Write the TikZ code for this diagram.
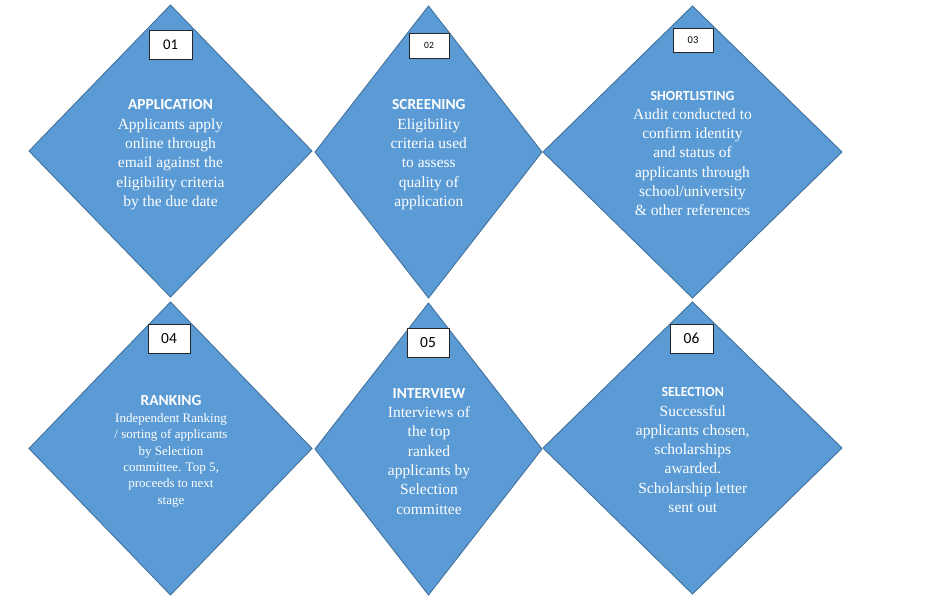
\documentclass[tikz,border=0pt]{standalone}
\usepackage{fontspec}
\setmainfont{Liberation Serif}
\newfontfamily\headfont{Carlito}
\usetikzlibrary{shapes.geometric,positioning}
\definecolor{stageblue}{HTML}{5B9BD5}
\definecolor{stageedge}{HTML}{41719C}

\begin{document}
\begin{tikzpicture}[x=1pt,y=-1pt,
    stage/.style = {diamond,fill=stageblue,draw=stageedge,line width=0.9pt,inner sep=0pt,outer sep=0pt},
    numbox/.style = {rectangle,fill=white,draw=black!85,line width=0.8pt,inner sep=0pt,text=black},
    heading/.style = {text=white,inner sep=0pt,font=\headfont\bfseries\fontsize{15.4}{18}\selectfont},
    smallheading/.style = {heading,font=\headfont\bfseries\fontsize{13.9}{16}\selectfont},
    body/.style = {text=white,inner sep=0pt,align=center,font=\fontsize{15.5}{19.3}\selectfont}]

        \useasboundingbox (0,0) rectangle (946,603);

        % Stage 01
        \node [stage,minimum width=283pt,minimum height=292pt] (application) at (170.5,151){};
        \node [numbox,minimum width=43pt,minimum height=29pt,font=\headfont\fontsize{14.8}{16}\selectfont] (num01) at (170.5,44.5){01};
        \node [heading] (applicationtitle) at (170.5,104){APPLICATION};
        \node [body,below=9pt of applicationtitle] (applicationtext){Applicants apply\\online through\\email against the\\eligibility criteria\\by the due date};

        % Stage 02
        \node [stage,minimum width=227pt,minimum height=292pt] (screening) at (428.5,152){};
        \node [numbox,minimum width=40pt,minimum height=25pt,font=\headfont\fontsize{9.5}{11}\selectfont] (num02) at (429,45.5){02};
        \node [heading] (screeningtitle) at (428.8,104){SCREENING};
        \node [body,below=9pt of screeningtitle] (screeningtext){Eligibility\\criteria used\\to assess\\quality of\\application};

        % Stage 03
        \node [stage,minimum width=299pt,minimum height=292pt] (shortlisting) at (692.5,152){};
        \node [numbox,minimum width=40pt,minimum height=24pt,font=\headfont\fontsize{10.5}{12}\selectfont] (num03) at (693,40){03};
        \node [smallheading] (shortlistingtitle) at (692.5,96){SHORTLISTING};
        \node [body,below=7.5pt of shortlistingtitle] (shortlistingtext){Audit conducted to\\confirm identity\\and status of\\applicants through\\school/university\\\& other references};

        % Stage 04
        \node [stage,minimum width=283pt,minimum height=293pt] (ranking) at (170.5,448.5){};
        \node [numbox,minimum width=42pt,minimum height=29pt,font=\headfont\fontsize{15.5}{17}\selectfont] (num04) at (169,338.5){04};
        \node [heading] (rankingtitle) at (171,400){RANKING};
        \node [body,below=8pt of rankingtitle,font=\fontsize{13}{16.3}\selectfont] (rankingtext){Independent Ranking\\/ sorting of applicants\\by Selection\\committee. Top 5,\\proceeds to next\\stage};

        % Stage 05
        \node [stage,minimum width=227pt,minimum height=292pt] (interview) at (428.5,449){};
        \node [numbox,minimum width=42pt,minimum height=29pt,font=\headfont\fontsize{15.5}{17}\selectfont] (num05) at (428,342.5){05};
        \node [heading] (interviewtitle) at (429,393.3){INTERVIEW};
        \node [body,below=8pt of interviewtitle] (interviewtext){Interviews of\\the top\\ranked\\applicants by\\Selection\\committee};

        % Stage 06
        \node [stage,minimum width=299pt,minimum height=292pt] (selection) at (692.5,448){};
        \node [numbox,minimum width=43pt,minimum height=29pt,font=\headfont\fontsize{15.5}{17}\selectfont] (num06) at (691.5,338.5){06};
        \node [smallheading] (selectiontitle) at (692.8,391.7){SELECTION};
        \node [body,below=8.4pt of selectiontitle] (selectiontext){Successful\\applicants chosen,\\scholarships\\awarded.\\Scholarship letter\\sent out};

    \end{tikzpicture}
\end{document}
